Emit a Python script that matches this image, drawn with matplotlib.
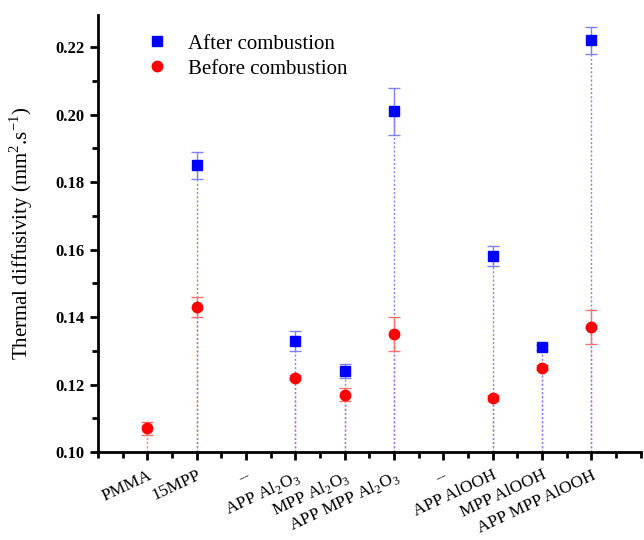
import numpy as np
import matplotlib
matplotlib.use("Agg")
import matplotlib.pyplot as plt
from matplotlib.ticker import MultipleLocator

plt.rcParams['font.family'] = ['Liberation Serif', 'DejaVu Serif']
plt.rcParams['mathtext.fontset'] = 'custom'
plt.rcParams['mathtext.rm'] = 'Liberation Serif'
plt.rcParams['mathtext.bf'] = 'Liberation Serif:bold'

# samples along the x axis ("--" are empty gap slots)
samples = ['PMMA', '15MPP', '--', 'APP Al$_2$O$_3$', 'MPP Al$_2$O$_3$',
           'APP MPP Al$_2$O$_3$', '--', 'APP AlOOH', 'MPP AlOOH', 'APP MPP AlOOH']
after = [np.nan, 0.185, np.nan, 0.133, 0.124, 0.201, np.nan, 0.158, 0.131, 0.222]
after_err = [np.nan, 0.004, np.nan, 0.003, 0.002, 0.007, np.nan, 0.003, 0.0008, 0.004]
before = [0.107, 0.143, np.nan, 0.122, 0.117, 0.135, np.nan, 0.116, 0.125, 0.137]
before_err = [0.002, 0.003, np.nan, 0.0008, 0.002, 0.005, np.nan, 0.0008, 0.0008, 0.005]

x = np.arange(1, len(samples) + 1)
after = np.array(after)
before = np.array(before)

fig = plt.figure(figsize=(6.44, 5.4), dpi=100)
ax = fig.add_axes([0.152, 0.163, 0.843, 0.809])

ymin = 0.10
# drop lines
for xi, b in zip(x, before):
    if not np.isnan(b):
        ax.vlines(xi, ymin, b, colors='#ff8080', linestyles=(0, (1.5, 1.5)), lw=1, zorder=1)
for xi, a in zip(x, after):
    if not np.isnan(a):
        ax.vlines(xi, ymin, a, colors='#8080ff', linestyles=(0, (1.5, 1.5)), lw=1, zorder=1)

ax.errorbar(x, after, yerr=after_err, fmt='none', ecolor='#8080ff',
            elinewidth=1, capsize=4, capthick=1, zorder=2)
ax.errorbar(x, before, yerr=before_err, fmt='none', ecolor='#ff7070',
            elinewidth=1, capsize=4, capthick=1, zorder=2)
ax.plot(x, after, 's', color='#0000ff', ms=6.5, ls='none', label='After combustion', zorder=3)
ax.plot(x, before, 'o', color='#ff0000', ms=7.5, ls='none', label='Before combustion', zorder=3)

ax.set_xlim(0, 11)
ax.set_ylim(0.10, 0.2295)
ax.set_xticks(x)
ax.set_xticklabels(samples, rotation=25, ha='right', rotation_mode='anchor', fontsize=12.5)
ax.xaxis.set_minor_locator(MultipleLocator(0.5))
ax.yaxis.set_minor_locator(MultipleLocator(0.01))
ax.set_yticks(np.arange(0.10, 0.221, 0.02))
ax.set_yticklabels(['%.2f' % v for v in np.arange(0.10, 0.221, 0.02)],
                   fontsize=12, fontweight='bold')

for s in ['top', 'right']:
    ax.spines[s].set_visible(False)
for s in ['left', 'bottom']:
    ax.spines[s].set_linewidth(2)
ax.tick_params(which='major', direction='out', length=6, width=2)
ax.tick_params(which='minor', direction='out', length=4, width=2)
ax.tick_params(axis='x', which='major', pad=5)

ax.set_ylabel('Thermal diffusivity (mm$^{2}$.s$^{-1}$)', fontsize=15)
ax.yaxis.set_label_coords(-0.115, 0.5)

ax.legend(loc='upper left', bbox_to_anchor=(0.055, 0.985), frameon=False,
          fontsize=15, handletextpad=0.7, borderaxespad=0.2, labelspacing=0.25,
          handlelength=1.6)

fig.savefig('out.png', dpi=100)
